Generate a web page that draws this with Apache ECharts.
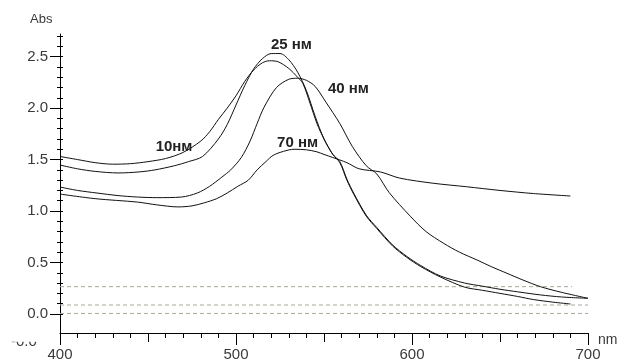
<!DOCTYPE html>
<html>
<head>
<meta charset="utf-8">
<script src="https://cdn.jsdelivr.net/npm/echarts@6/dist/echarts.min.js"></script>
<style>
html,body{margin:0;padding:0;background:#fff;}
#c{width:620px;height:363px;}
</style>
</head>
<body>
<div id="c"></div>
<script>
// ---- data (wavelength nm, absorbance) ----
const nm10  = [400,410,420,430,440,450,460,470,480,485,490,495,500,505,510,515,519,524,530,535,538,542,546,550,555,559,563,567,574,580,589,597,605,616,630,640,650,660,669,680,690];
const abs10 = [1.53,1.50,1.47,1.455,1.46,1.48,1.51,1.57,1.68,1.77,1.89,2.00,2.12,2.26,2.37,2.44,2.46,2.45,2.385,2.30,2.24,2.05,1.85,1.70,1.55,1.47,1.30,1.16,0.95,0.83,0.66,0.55,0.46,0.36,0.26,0.23,0.20,0.17,0.14,0.115,0.097];

const nm25  = [400,410,420,433,445,454,465,473,481,490,495,500,505,510,515,520,525,530,535,540,545,550,555,559,563,567,574,580,589,597,605,616,630,640,650,660,673,685,700];
const abs25 = [1.447,1.41,1.385,1.37,1.38,1.40,1.44,1.48,1.53,1.70,1.84,2.03,2.22,2.38,2.48,2.53,2.53,2.47,2.35,2.17,1.92,1.70,1.55,1.48,1.31,1.17,0.96,0.84,0.67,0.56,0.47,0.37,0.30,0.27,0.24,0.215,0.185,0.165,0.152];

const nm40  = [400,410,421,433,444,455,469,478,485,492,497,503,508,512,516,523,530,535,540,545,551,559,566,574,580,587,599,608,618,627,637,645,654,663,673,685,700];
const abs40 = [1.233,1.20,1.175,1.15,1.136,1.13,1.136,1.175,1.24,1.33,1.40,1.52,1.68,1.85,2.01,2.20,2.28,2.29,2.27,2.21,2.06,1.85,1.63,1.44,1.36,1.18,0.95,0.80,0.686,0.60,0.524,0.46,0.395,0.33,0.265,0.21,0.152];

const nm70  = [400,420,444,455,467,475,482,489,495,501,507,512,517,521,527,533,540,546,550,555,563,570,582,593,612,631,650,669,690];
const abs70 = [1.165,1.12,1.087,1.06,1.04,1.05,1.08,1.12,1.175,1.24,1.30,1.40,1.48,1.54,1.58,1.60,1.595,1.575,1.55,1.52,1.47,1.41,1.38,1.32,1.27,1.236,1.20,1.17,1.146];

const curveNames = ['10нм','25 нм','40 нм','70 нм'];
const labelAnchorNm  = [464.8, 531.5, 563.9, 535.0];
const labelAnchorAbs = [1.62, 2.615, 2.185, 1.665];

// dashed baseline levels
const baseLevels = [0.265, 0.087, 0.005];
const baseEndNm  = [691, 700, 700];

const xMajor = [400,500,600,700];
const xMid   = [450,550,650];
const xMinor = []; for (let v=400; v<=700; v+=10) xMinor.push(v);
const yMajor = [0,0.5,1.0,1.5,2.0,2.5];
const yMinor = []; for (let i=0;i<=27;i++) yMinor.push(+(i*0.1).toFixed(1));

const X_MIN=400, X_MAX=700, Y_MIN=-0.185, Y_MAX=2.72;

function pairs(xs, ys){ return xs.map((x,i)=>[x, ys[i]]); }

const FONT = '"Liberation Sans", Arial, sans-serif';
const lineCol = '#111';
const axisCol = '#000';
const textCol = '#3a3a3a';

const chart = echarts.init(document.getElementById('c'), null, {renderer:'canvas'});

function xAx(ticks, len, withLabels){
  return {
    type:'value', min:X_MIN, max:X_MAX, position:'bottom', offset:0,
    splitLine:{show:false},
    axisLine:{show:withLabels, onZero:false, lineStyle:{color:axisCol, width:1}},
    axisTick:{show:true, customValues:ticks, length:len, inside:false, lineStyle:{color:axisCol,width:1}},
    axisLabel: withLabels ? {show:true, customValues:xMajor, margin:14, color:textCol, fontFamily:FONT, fontSize:15} : {show:false}
  };
}
function yAx(ticks, len, withLabels, offset){
  return {
    type:'value', min:Y_MIN, max:Y_MAX, position:'left', offset:offset||0,
    splitLine:{show:false},
    axisLine:{show:withLabels, onZero:false, lineStyle:{color:axisCol, width:1}},
    axisTick:{show:true, customValues:ticks, length:len, inside:false, lineStyle:{color:axisCol,width:1}},
    axisLabel: withLabels ? {show:true, customValues:yMajor, margin:12, color:textCol, fontFamily:FONT, fontSize:15,
      formatter:(v)=>Number(v).toFixed(1)} : {show:false}
  };
}

const series = [];
[[nm10,abs10],[nm25,abs25],[nm40,abs40],[nm70,abs70]].forEach((c,i)=>{
  series.push({
    type:'line', name:curveNames[i], data:pairs(c[0],c[1]), xAxisIndex:0, yAxisIndex:0,
    showSymbol:false, smooth:0.3, lineStyle:{color:lineCol, width:1}, animation:false, z:3
  });
});
baseLevels.forEach((lv,i)=>{
  series.push({
    type:'line', data:[[X_MIN,lv],[baseEndNm[i],lv]], xAxisIndex:0, yAxisIndex:0,
    showSymbol:false, lineStyle:{color:'#a8a698', width:1, type:[4,3]}, animation:false, z:2
  });
});

chart.setOption({
  animation:false,
  backgroundColor:'#fff',
  grid:{left:60, right:32, top:34, bottom:30, containLabel:false},
  xAxis:[ xAx(xMajor,12,true), xAx(xMid,9,false), xAx(xMinor,5,false) ],
  yAxis:[ yAx(yMajor,10,true,0), yAx(yMinor,6,false,-3) ],
  series: series
});

// text annotations anchored in data space
const g = [];
curveNames.forEach((t,i)=>{
  const p = chart.convertToPixel({xAxisIndex:0, yAxisIndex:0}, [labelAnchorNm[i], labelAnchorAbs[i]]);
  g.push({type:'text', x:p[0], y:p[1], z:10, style:{text:t, fill:'#222', font:'bold 15px '+FONT, align:'center', verticalAlign:'middle'}});
});
g.push({type:'text', x:30, y:13, style:{text:'Abs', fill:textCol, font:'13px '+FONT}});
g.push({type:'text', x:598, y:333, style:{text:'nm', fill:textCol, font:'14px '+FONT}});
// partially hidden bottom label
g.push({type:'text', x:11, y:334, z:1, style:{text:'-0.0', fill:textCol, font:'15px '+FONT}});
g.push({type:'rect', shape:{x:0,y:322,width:52,height:19.7}, z:2, style:{fill:'#fff'}});
chart.setOption({graphic:g});
</script>
</body>
</html>
